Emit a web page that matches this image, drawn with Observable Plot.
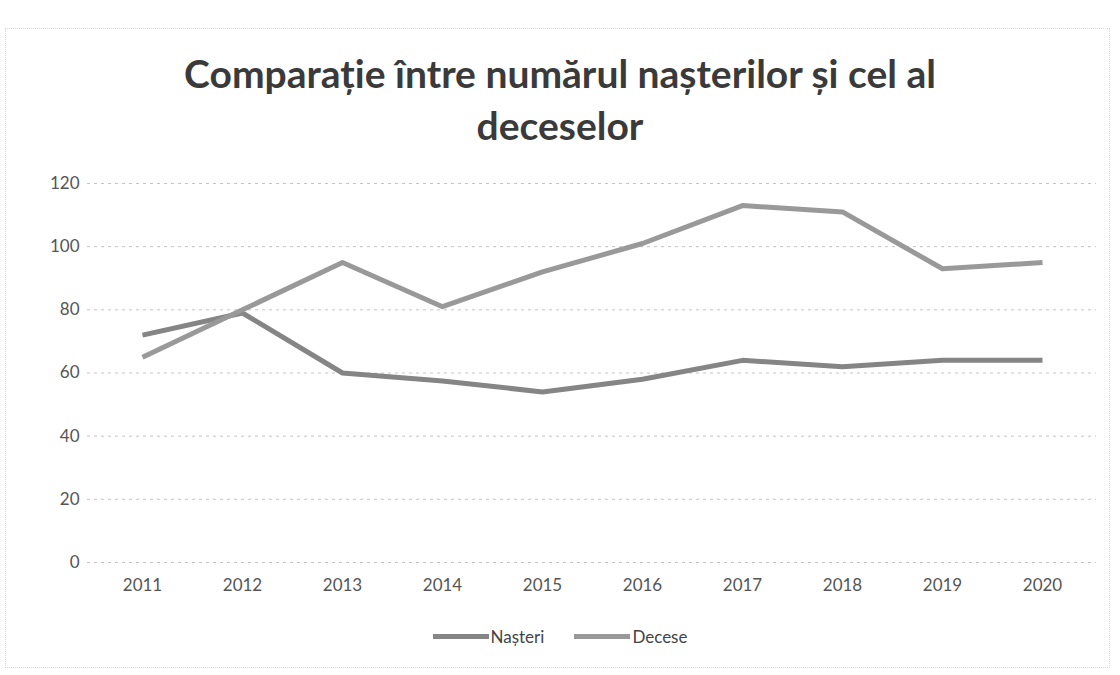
<!DOCTYPE html>
<html>
<head>
<meta charset="utf-8">
<script src="https://cdn.jsdelivr.net/npm/d3@7"></script>
<script src="https://cdn.jsdelivr.net/npm/@observablehq/plot@0.6"></script>
<style>
  html, body { margin: 0; padding: 0; background: #fff; }
  #frame { position: relative; width: 1120px; height: 675px; overflow: hidden; background: #fff; }
  #border { position: absolute; left: 5px; top: 28px; width: 1105px; height: 640px; border: 1px dotted #d6d6d6; box-sizing: border-box; }
  #title { position: absolute; left: 0; top: 47px; width: 1120px; text-align: center;
           font-family: Lato, "Open Sans", sans-serif; font-weight: 700; font-size: 39px; line-height: 52px; color: #3a3a3a; }
  #chart { position: absolute; left: 0; top: 160px; }
  #legend { position: absolute; left: 0; top: 626px; width: 1120px; display: flex; justify-content: center; gap: 30px;
            font-family: Lato, "Open Sans", sans-serif; font-size: 17px; color: #444; }
  .item { display: flex; align-items: center; }
  .sw { width: 56px; height: 5px; margin-right: 2px; }
</style>
</head>
<body>
<div id="frame">
  <div id="border"></div>
  <div id="title">Comparație între numărul nașterilor și cel al<br>deceselor</div>
  <div id="chart"></div>
  <div id="legend"></div>
</div>
<script>
const years = [2011, 2012, 2013, 2014, 2015, 2016, 2017, 2018, 2019, 2020];
const nasteri = [72, 79, 60, 57.5, 54, 58, 64, 62, 64, 64];
const decese = [65, 80, 95, 81, 92, 101, 113, 111, 93, 95];
const seriesNames = ["Nașteri", "Decese"];
const seriesColors = ["#858585", "#999999"];
const yTicks = [0, 20, 40, 60, 80, 100, 120];

const rows = [];
years.forEach((y, i) => {
  rows.push({year: y, value: nasteri[i], serie: seriesNames[0]});
  rows.push({year: y, value: decese[i], serie: seriesNames[1]});
});

const font = "Lato, 'Open Sans', sans-serif";
const chart = Plot.plot({
  width: 1120,
  height: 450,
  marginLeft: 87,
  marginRight: 24,
  marginTop: 23,
  marginBottom: 48,
  style: {fontFamily: font, fontSize: "17px", color: "#555", background: "transparent"},
  x: {type: "point", domain: years, padding: 0.5, label: null},
  y: {domain: [0, 120], label: null},
  color: {domain: seriesNames, range: seriesColors},
  marks: [
    Plot.ruleY(yTicks, {stroke: "#c4c4c4", strokeWidth: 1, strokeDasharray: "3,4"}),
    Plot.axisY(yTicks, {tickSize: 0, tickPadding: 8, label: null, fontSize: 17}),
    Plot.axisX(years, {tickSize: 0, tickPadding: 16, label: null, fontSize: 17, tickFormat: d => String(d)}),
    Plot.line(rows, {x: "year", y: "value", z: "serie", stroke: "serie", strokeWidth: 5, strokeLinejoin: "round", strokeLinecap: "butt"})
  ]
});
document.getElementById("chart").appendChild(chart);

const legend = document.getElementById("legend");
seriesNames.forEach((n, i) => {
  const it = document.createElement("div");
  it.className = "item";
  const sw = document.createElement("div");
  sw.className = "sw";
  sw.style.background = seriesColors[i];
  const t = document.createElement("span");
  t.textContent = n;
  it.appendChild(sw);
  it.appendChild(t);
  legend.appendChild(it);
});
</script>
</body>
</html>
